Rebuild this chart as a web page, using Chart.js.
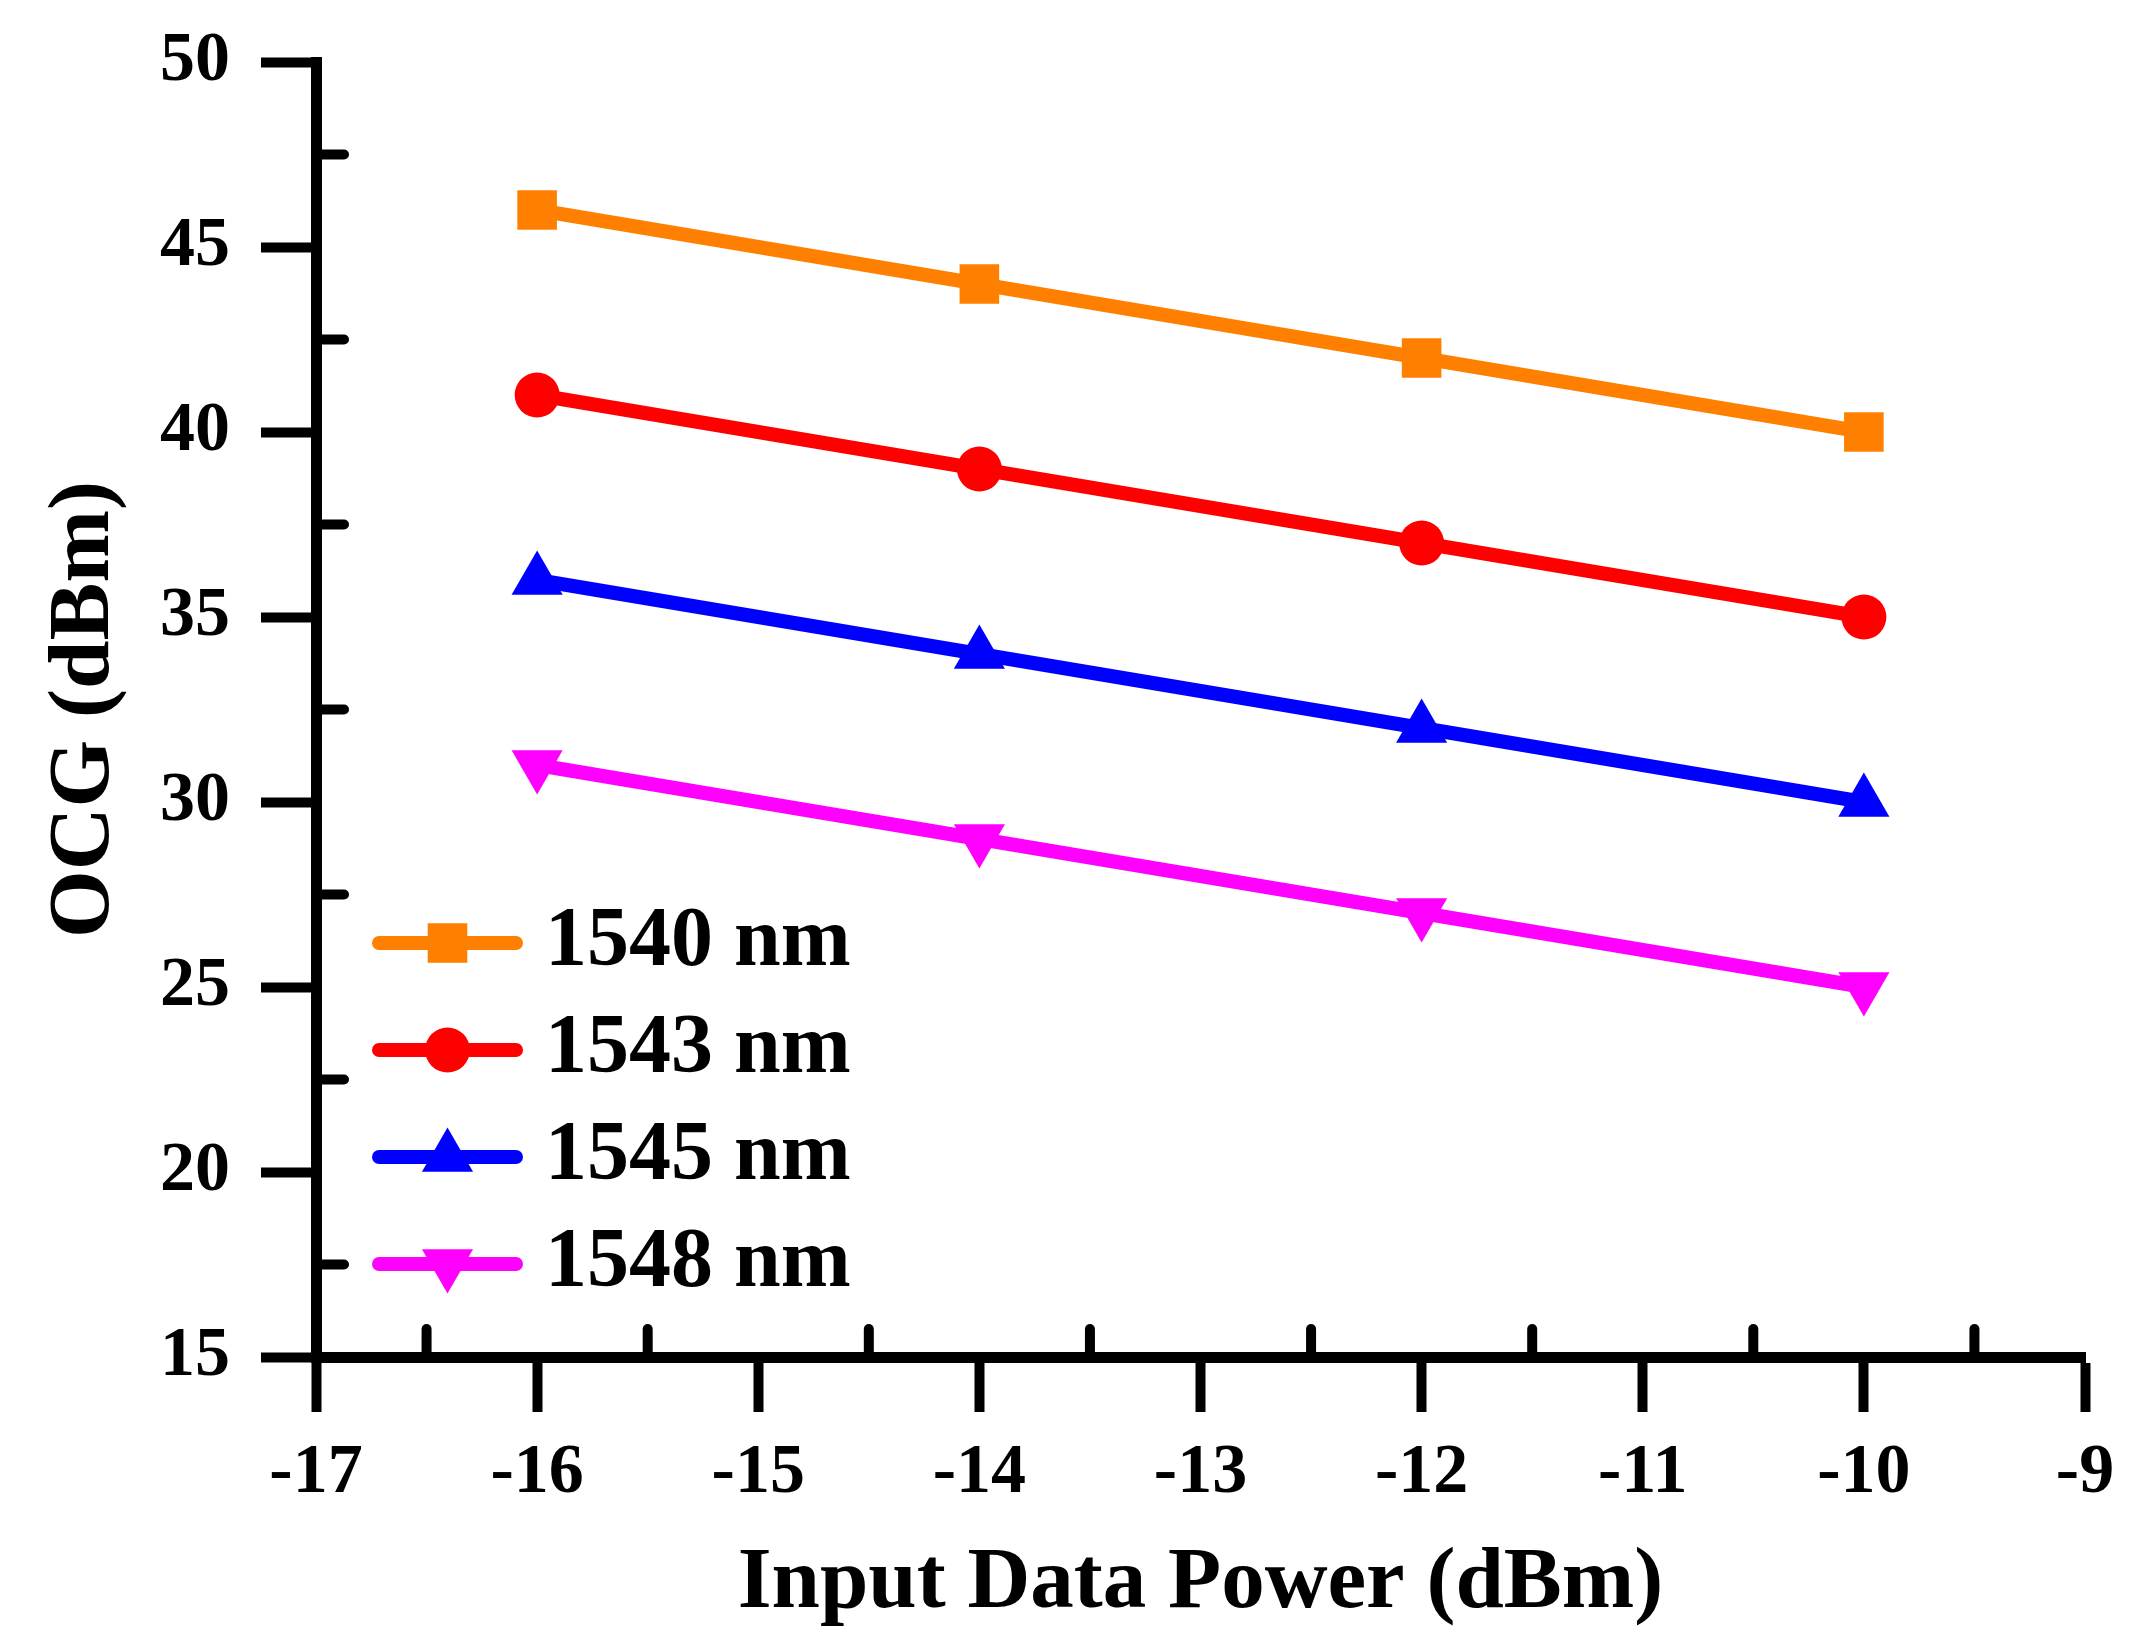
<!DOCTYPE html>
<html>
<head>
<meta charset="utf-8">
<title>OCG vs Input Data Power</title>
<script src="https://cdn.jsdelivr.net/npm/chart.js@4.4.1/dist/chart.umd.min.js"></script>
<style>
  html, body { margin: 0; padding: 0; background: #fff; overflow: hidden; }
  #wrap { width: 2147px; height: 1650px; }
</style>
</head>
<body>
<div id="wrap"><canvas id="ocgChart"></canvas></div>
<script>
// Values
const inputPower = [-16, -14, -12, -10];
const seriesLabels = ["1540 nm", "1543 nm", "1545 nm", "1548 nm"];
const ocg1540 = [46, 44, 42, 40];
const ocg1543 = [41, 39, 37, 35];
const ocg1545 = [36, 34, 32, 30];
const ocg1548 = [31, 29, 27, 25];

// Axis ranges / steps
const xRange = [-17, -9];
const yRange = [15, 50];
const xStep = 1;
const yStep = 5;

const FONT = "'Liberation Serif', 'Times New Roman', serif";

function toPoints(values) {
  return inputPower.map((x, i) => ({ x, y: values[i] }));
}

// Legend icon: a short line with the marker on top of it
function legendIcon(ds) {
  const c = document.createElement("canvas");
  c.width = 151;
  c.height = 70;
  const g = c.getContext("2d");
  g.strokeStyle = ds.borderColor;
  g.lineWidth = 14;
  g.lineCap = "round";
  g.beginPath();
  g.moveTo(7, 35);
  g.lineTo(144, 35);
  g.stroke();
  g.fillStyle = ds.borderColor;
  Chart.helpers.drawPoint(g, {
    pointStyle: ds.pointStyle,
    radius: ds.pointRadius,
    rotation: ds.pointRotation || 0,
    borderWidth: 0,
  }, 75.5, 35);
  return c;
}

// Minor ticks halfway between the major ones, pointing into the plot
const minorTicks = {
  id: "minorTicks",
  afterDraw(chart) {
    const { ctx, chartArea } = chart;
    const xs = chart.scales.x, ys = chart.scales.y;
    ctx.save();
    ctx.strokeStyle = "#000";
    ctx.lineWidth = 10;
    ctx.lineCap = "round";
    const xt = xs.ticks.map(t => t.value);
    for (let i = 0; i < xt.length - 1; i++) {
      const px = xs.getPixelForValue((xt[i] + xt[i + 1]) / 2);
      ctx.beginPath();
      ctx.moveTo(px, chartArea.bottom);
      ctx.lineTo(px, chartArea.bottom - 28);
      ctx.stroke();
    }
    const yt = ys.ticks.map(t => t.value);
    for (let i = 0; i < yt.length - 1; i++) {
      const py = ys.getPixelForValue((yt[i] + yt[i + 1]) / 2);
      ctx.beginPath();
      ctx.moveTo(chartArea.left, py);
      ctx.lineTo(chartArea.left + 28, py);
      ctx.stroke();
    }
    ctx.restore();
  },
};

// Nudge the in-plot legend to where it sits in the figure
const legendNudge = {
  id: "legendNudge",
  afterLayout(chart) {
    const lg = chart.legend;
    if (!lg) return;
    lg.left += 53;
    lg.right += 53;
    lg.bottom += 34;
  },
};

const tickFont = { family: FONT, size: 70, weight: "bold" };
const titleFont = { family: FONT, size: 87, weight: "bold", lineHeight: 1 };

new Chart(document.getElementById("ocgChart"), {
  type: "line",
  data: {
    datasets: [
      {
        label: seriesLabels[0],
        data: toPoints(ocg1540),
        borderColor: "#FF8000",
        backgroundColor: "#FF8000",
        pointStyle: "rect",
        pointRadius: 28,
      },
      {
        label: seriesLabels[1],
        data: toPoints(ocg1543),
        borderColor: "#FF0000",
        backgroundColor: "#FF0000",
        pointStyle: "circle",
        pointRadius: 22.5,
      },
      {
        label: seriesLabels[2],
        data: toPoints(ocg1545),
        borderColor: "#0000FF",
        backgroundColor: "#0000FF",
        pointStyle: "triangle",
        pointRadius: 29.5,
      },
      {
        label: seriesLabels[3],
        data: toPoints(ocg1548),
        borderColor: "#FF00FF",
        backgroundColor: "#FF00FF",
        pointStyle: "triangle",
        pointRotation: 180,
        pointRadius: 29.5,
      },
    ].map(ds => Object.assign({
      borderWidth: 14,
      tension: 0,
      pointBorderWidth: 0,
      pointHoverRadius: ds.pointRadius,
    }, ds)),
  },
  options: {
    responsive: true,
    maintainAspectRatio: false,
    animation: false,
    layout: { padding: { top: 62, right: 62, left: 0, bottom: 0 } },
    scales: {
      x: {
        type: "linear",
        min: xRange[0],
        max: xRange[1],
        ticks: { stepSize: xStep, padding: 20, color: "#000", font: tickFont },
        grid: { drawOnChartArea: false, tickLength: 55, tickWidth: 10, tickColor: "#000" },
        border: { color: "#000", width: 11 },
        title: {
          display: true,
          text: "Input Data Power (dBm)",
          color: "#000",
          font: titleFont,
          padding: { top: 0, bottom: 22 },
        },
        afterFit(scale) {
          scale.height = 293;
          scale.paddingLeft = 0;
          scale.paddingRight = 0;
        },
      },
      y: {
        type: "linear",
        min: yRange[0],
        max: yRange[1],
        ticks: { stepSize: yStep, padding: 31, color: "#000", font: tickFont },
        grid: { drawOnChartArea: false, tickLength: 55, tickWidth: 10, tickColor: "#000" },
        border: { color: "#000", width: 11 },
        title: {
          display: true,
          text: "OCG (dBm)",
          color: "#000",
          font: titleFont,
          padding: { top: 42, bottom: 0 },
        },
        afterFit(scale) {
          scale.width = 316;
          scale.paddingTop = 0;
          scale.paddingBottom = 0;
        },
      },
    },
    plugins: {
      legend: {
        position: "chartArea",
        align: "end",
        labels: {
          usePointStyle: true,
          pointStyleWidth: 111,
          padding: 23,
          color: "#000",
          font: { family: FONT, size: 84, weight: "bold" },
          generateLabels(chart) {
            return chart.data.datasets.map((ds, i) => ({
              text: ds.label,
              pointStyle: legendIcon(ds),
              rotation: 0,
              fillStyle: ds.borderColor,
              strokeStyle: ds.borderColor,
              lineWidth: 0,
              fontColor: "#000",
              hidden: false,
              datasetIndex: i,
            }));
          },
        },
      },
      tooltip: { enabled: false },
    },
  },
  plugins: [minorTicks, legendNudge],
});
</script>
</body>
</html>
